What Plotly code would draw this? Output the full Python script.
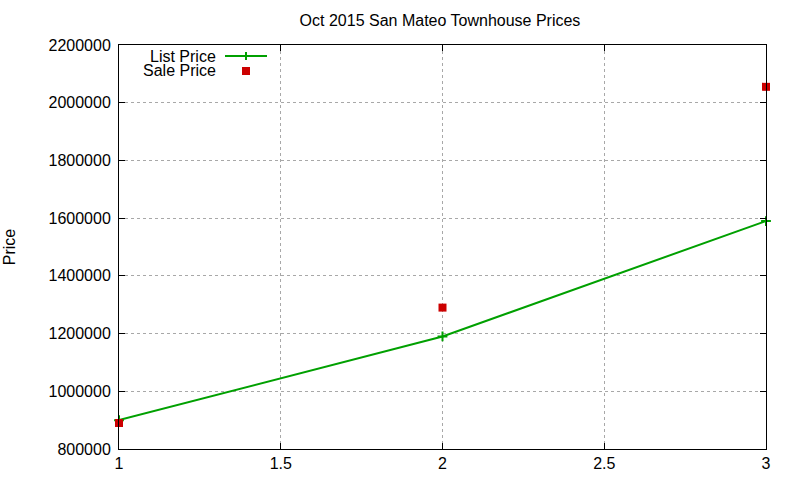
import plotly.graph_objects as go

# values
months = [1, 2, 3]
list_price = [900000, 1190000, 1590000]
sale_price = [890000, 1290000, 2055000]

green = 'rgb(0,160,0)'
red = 'rgb(204,0,0)'
font = 'Liberation Sans, Arial, sans-serif'

# plot area in pixels (gnuplot layout)
L, R, T, B = 119, 766, 45, 449
W, H = R - L, B - T


def px(x):
    return (x - L) / W


def py(y):
    return (B - y) / H


fig = go.Figure()

fig.add_trace(go.Scatter(
    x=months, y=list_price, name='List Price', mode='lines+markers',
    line=dict(color=green, width=2),
    marker=dict(symbol='cross-thin', size=7, line=dict(color=green, width=2)),
    cliponaxis=False,
))
fig.add_trace(go.Scatter(
    x=months, y=sale_price, name='Sale Price', mode='markers',
    marker=dict(symbol='square', size=8, color=red),
    cliponaxis=False,
))

# gnuplot style key: text right aligned, sample to the right
for label, yy in [('List Price', 56), ('Sale Price', 71)]:
    fig.add_annotation(x=px(218), y=py(yy), xref='paper', yref='paper', text=label,
                       showarrow=False, xanchor='right', yanchor='middle',
                       font=dict(size=16, color='black', family=font))

fig.add_shape(type='line', xref='paper', yref='paper',
              x0=px(225), x1=px(267), y0=py(56), y1=py(56),
              line=dict(color=green, width=2))
fig.add_shape(type='line', xref='paper', yref='paper',
              x0=px(246), x1=px(246), y0=py(60), y1=py(52),
              line=dict(color=green, width=2))
fig.add_shape(type='rect', xref='paper', yref='paper',
              x0=px(242), x1=px(250), y0=py(75), y1=py(67),
              line=dict(width=0), fillcolor=red)

axis_style = dict(
    showline=True, linecolor='black', linewidth=1, mirror='ticks',
    ticks='inside', ticklen=6, tickcolor='black',
    showgrid=True, gridcolor='#a8a8a8', griddash='dot', gridwidth=1,
    zeroline=False, automargin=False,
    tickfont=dict(size=16, color='black', family=font),
)

fig.update_xaxes(range=[1, 3], dtick=0.5, tick0=1, **axis_style)
fig.update_yaxes(range=[800000, 2200000], dtick=200000, tickformat='d',
                 ticklabelstandoff=4,
                 title=dict(text='Price', standoff=28, font=dict(size=16, color='black', family=font)),
                 **axis_style)

fig.update_layout(
    width=800, height=480,
    margin=dict(l=L, r=800 - R, t=T, b=480 - B, autoexpand=False),
    paper_bgcolor='white', plot_bgcolor='white',
    showlegend=False,
    title=dict(text='Oct 2015 San Mateo Townhouse Prices', x=440 / 800, xanchor='center',
               xref='container', yref='container',
               y=1 - 20 / 480, yanchor='middle', font=dict(size=16, color='black', family=font)),
    font=dict(family=font, color='black'),
)

# drop the default body margin so the figure sits at the page corner
fig.write_html("out.html", config={'displayModeBar': False},
               post_script="document.body.style.margin='0';")
